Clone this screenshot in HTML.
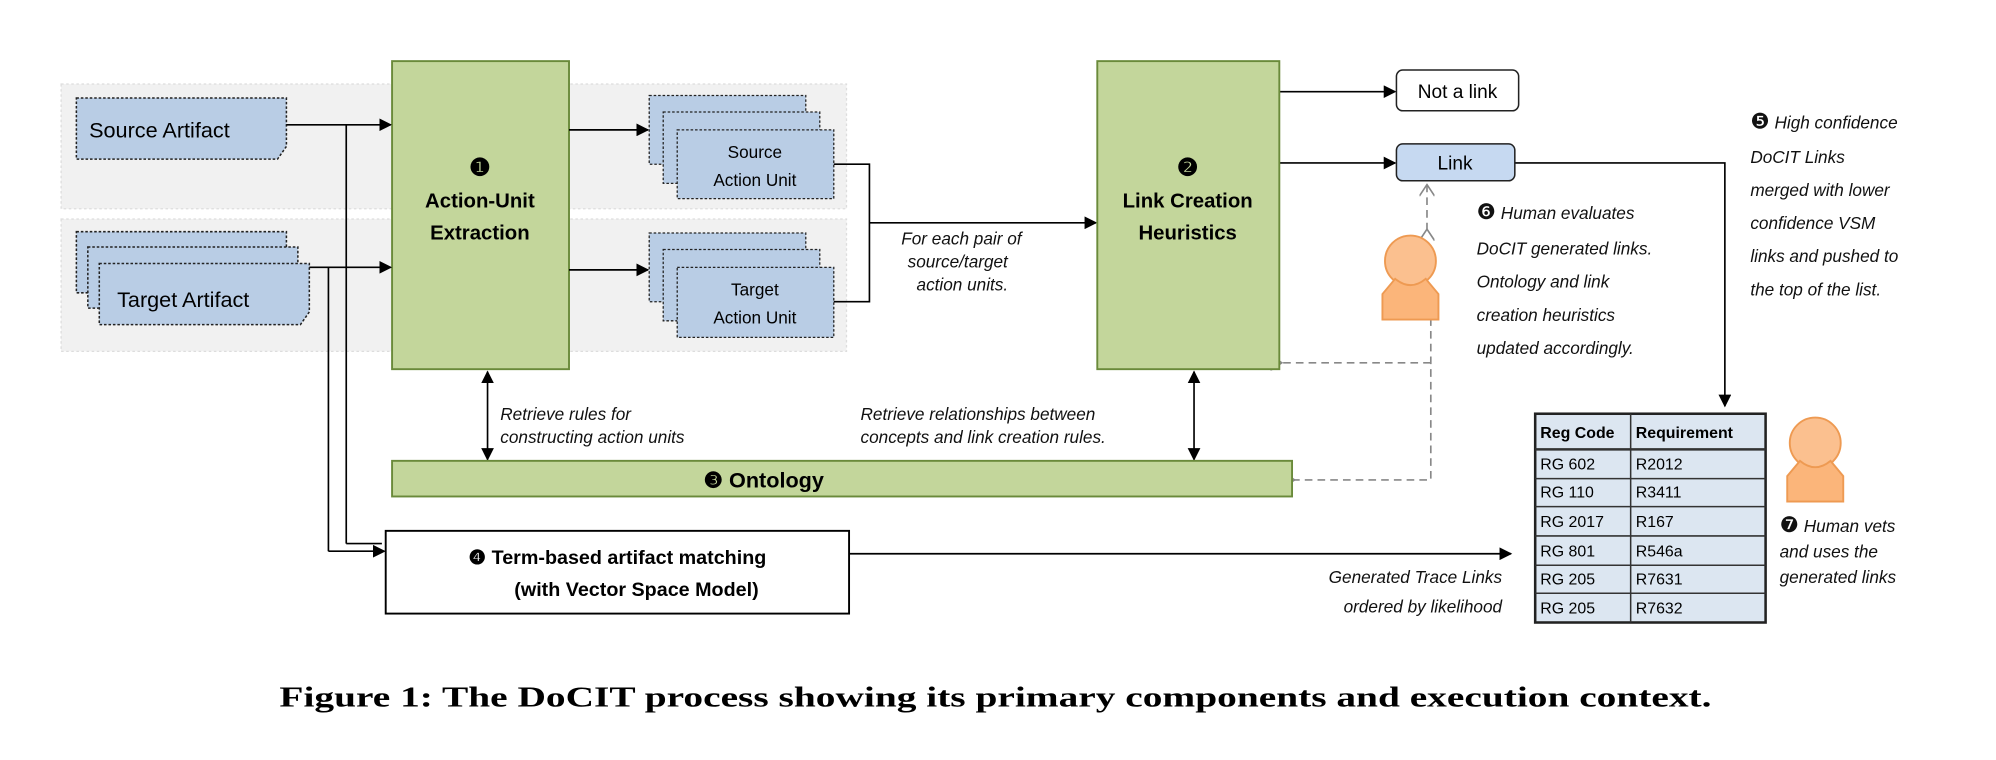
<!DOCTYPE html>
<html><head><meta charset="utf-8"><style>
html,body{margin:0;padding:0;background:#fff;}
svg{display:block;}
text{font-family:"Liberation Sans",sans-serif;}
.it{font-style:italic;font-size:13.5px;fill:#111;}
</style></head><body>
<svg width="1996" height="760" viewBox="0 0 1568 597" xmlns="http://www.w3.org/2000/svg">
<defs>
<marker id="a" markerWidth="10" markerHeight="10" refX="9" refY="5" orient="auto" markerUnits="userSpaceOnUse"><path d="M0,0 L10,5 L0,10 z" fill="#000"/></marker>
<marker id="as" markerWidth="10" markerHeight="10" refX="1" refY="5" orient="auto" markerUnits="userSpaceOnUse"><path d="M10,0 L0,5 L10,10 z" fill="#000"/></marker>
<marker id="ao" markerWidth="12" markerHeight="12" refX="1" refY="6" orient="auto" markerUnits="userSpaceOnUse"><path d="M10,0 L1,6 L10,12" fill="none" stroke="#888" stroke-width="1.3"/></marker>
<g id="person"><circle cx="26" cy="22" r="20" fill="#fbc08f" stroke="#ee9a52" stroke-width="1.5"/><path d="M14,36 L4,48 L4,68 L48,68 L48,48 L38,36 Q26,46 14,36z" fill="#fbb57a" stroke="#ee9a52" stroke-width="1.5"/></g>
</defs>
<rect x="48" y="66" width="617" height="98" fill="#f1f1f1" stroke="#ddd" stroke-dasharray="2,2"/>
<rect x="48" y="172" width="617" height="104" fill="#f1f1f1" stroke="#ddd" stroke-dasharray="2,2"/>
<path d="M60,77 H225 V115 L218,125 H60z" fill="#b9cde5" stroke="#222" stroke-dasharray="2,1.5" stroke-width="1.2"/>
<text x="70" y="108" font-size="17">Source Artifact</text>
<path d="M60,182 H225 V220 L218,230 H60z" fill="#b9cde5" stroke="#222" stroke-dasharray="2,1.5" stroke-width="1.2"/>
<path d="M69,194 H234 V232 L227,242 H69z" fill="#b9cde5" stroke="#222" stroke-dasharray="2,1.5" stroke-width="1.2"/>
<path d="M78,207 H243 V245 L236,255 H78z" fill="#b9cde5" stroke="#222" stroke-dasharray="2,1.5" stroke-width="1.2"/>
<text x="92" y="241" font-size="17">Target Artifact</text>
<rect x="308" y="48" width="139" height="242" fill="#c3d69b" stroke="#6a8a3a" stroke-width="1.5"/>
<text x="377" y="138" font-size="19" font-weight="bold" text-anchor="middle">❶</text>
<text x="377" y="163" font-size="16" font-weight="bold" text-anchor="middle">Action-Unit</text>
<text x="377" y="188" font-size="16" font-weight="bold" text-anchor="middle">Extraction</text>
<rect x="510" y="75" width="123" height="54" fill="#b9cde5" stroke="#222" stroke-dasharray="2,1.5"/>
<rect x="521" y="88" width="123" height="56" fill="#b9cde5" stroke="#222" stroke-dasharray="2,1.5"/>
<rect x="532" y="102" width="123" height="54" fill="#b9cde5" stroke="#222" stroke-dasharray="2,1.5"/>
<text x="593" y="124" font-size="13.5" text-anchor="middle">Source</text>
<text x="593" y="146" font-size="13.5" text-anchor="middle">Action Unit</text>
<rect x="510" y="183" width="123" height="54" fill="#b9cde5" stroke="#222" stroke-dasharray="2,1.5"/>
<rect x="521" y="196" width="123" height="56" fill="#b9cde5" stroke="#222" stroke-dasharray="2,1.5"/>
<rect x="532" y="210" width="123" height="55" fill="#b9cde5" stroke="#222" stroke-dasharray="2,1.5"/>
<text x="593" y="232" font-size="13.5" text-anchor="middle">Target</text>
<text x="593" y="254" font-size="13.5" text-anchor="middle">Action Unit</text>
<g stroke="#000" stroke-width="1.3" fill="none">
<line x1="225" y1="98" x2="307" y2="98" marker-end="url(#a)"/>
<line x1="243" y1="210" x2="307" y2="210" marker-end="url(#a)"/>
<line x1="447" y1="102" x2="509" y2="102" marker-end="url(#a)"/>
<line x1="447" y1="212" x2="509" y2="212" marker-end="url(#a)"/>
<polyline points="655,129 683,129 683,237 655,237"/>
<line x1="683" y1="175" x2="861" y2="175" marker-end="url(#a)"/>
<line x1="272" y1="98" x2="272" y2="427"/>
<line x1="258" y1="210" x2="258" y2="433"/>
<polyline points="258,433 302,433" marker-end="url(#a)"/>
<line x1="272" y1="427" x2="300" y2="427"/>
<line x1="1005" y1="72" x2="1096" y2="72" marker-end="url(#a)"/>
<line x1="1005" y1="128" x2="1096" y2="128" marker-end="url(#a)"/>
<polyline points="1190,128 1355,128 1355,319" marker-end="url(#a)"/>
<line x1="383" y1="292" x2="383" y2="361" marker-start="url(#as)" marker-end="url(#a)"/>
<line x1="938" y1="292" x2="938" y2="361" marker-start="url(#as)" marker-end="url(#a)"/>
<line x1="667" y1="435" x2="1187" y2="435" marker-end="url(#a)"/>
</g>
<g stroke="#888" stroke-width="1.3" fill="none" stroke-dasharray="6,4">
<line x1="1121" y1="145" x2="1121" y2="180" marker-start="url(#ao)" marker-end="url(#ao)"/>
<polyline points="1124,250 1124,377 1017,377" marker-end="url(#ao)"/>
<line x1="1124" y1="285" x2="1007" y2="285" marker-end="url(#ao)"/>
</g>
<text class="it" x="708" y="192">For each pair of</text>
<text class="it" x="713" y="210">source/target</text>
<text class="it" x="720" y="228">action units.</text>
<rect x="862" y="48" width="143" height="242" fill="#c3d69b" stroke="#6a8a3a" stroke-width="1.5"/>
<text x="933" y="138" font-size="19" font-weight="bold" text-anchor="middle">❷</text>
<text x="933" y="163" font-size="16" font-weight="bold" text-anchor="middle">Link Creation</text>
<text x="933" y="188" font-size="16" font-weight="bold" text-anchor="middle">Heuristics</text>
<rect x="1097" y="55" width="96" height="32" rx="5" fill="#fff" stroke="#222" stroke-width="1.2"/>
<text x="1145" y="77" font-size="15" text-anchor="middle">Not a link</text>
<rect x="1097" y="113" width="93" height="29" rx="5" fill="#c6d9f1" stroke="#222" stroke-width="1.2"/>
<text x="1143" y="133" font-size="15" text-anchor="middle">Link</text>
<use href="#person" x="1082" y="183"/>
<text class="it" x="1160" y="172"><tspan font-style="normal" font-size="17">❻</tspan>  Human evaluates</text>
<text class="it" x="1160" y="200">DoCIT generated links.</text>
<text class="it" x="1160" y="226">Ontology and link</text>
<text class="it" x="1160" y="252">creation heuristics</text>
<text class="it" x="1160" y="278">updated accordingly.</text>
<text class="it" x="1375" y="101"><tspan font-style="normal" font-size="17">❺</tspan> High confidence</text>
<text class="it" x="1375" y="128">DoCIT Links</text>
<text class="it" x="1375" y="154">merged with lower</text>
<text class="it" x="1375" y="180">confidence VSM</text>
<text class="it" x="1375" y="206">links and pushed to</text>
<text class="it" x="1375" y="232">the top of the list.</text>
<rect x="308" y="362" width="707" height="28" fill="#c3d69b" stroke="#6a8a3a" stroke-width="1.5"/>
<text x="600" y="383" font-size="17" font-weight="bold" text-anchor="middle">❸ Ontology</text>
<text class="it" x="393" y="330">Retrieve rules for</text>
<text class="it" x="393" y="348">constructing action units</text>
<text class="it" x="676" y="330">Retrieve relationships between</text>
<text class="it" x="676" y="348">concepts and link creation rules.</text>
<rect x="303" y="417" width="364" height="65" fill="#fff" stroke="#000" stroke-width="1.5"/>
<text x="485" y="443" font-size="15.5" font-weight="bold" text-anchor="middle">❹ Term-based artifact matching</text>
<text x="500" y="468" font-size="15.5" font-weight="bold" text-anchor="middle">(with Vector Space Model)</text>
<text class="it" x="1180" y="458" text-anchor="end">Generated Trace Links</text>
<text class="it" x="1180" y="481" text-anchor="end">ordered by likelihood</text>
<rect x="1206" y="325" width="181" height="164" fill="#dce6f1" stroke="#222" stroke-width="2"/>
<g stroke="#333" stroke-width="1.2">
<line x1="1206" y1="353" x2="1387" y2="353" stroke-width="2"/>
<line x1="1206" y1="376" x2="1387" y2="376"/>
<line x1="1206" y1="398" x2="1387" y2="398"/>
<line x1="1206" y1="421" x2="1387" y2="421"/>
<line x1="1206" y1="444" x2="1387" y2="444"/>
<line x1="1206" y1="466" x2="1387" y2="466"/>
<line x1="1281" y1="325" x2="1281" y2="489"/>
</g>
<g font-size="12.5">
<text x="1210" y="344" font-weight="bold">Reg Code</text><text x="1285" y="344" font-weight="bold">Requirement</text>
<text x="1210" y="369">RG 602</text><text x="1285" y="369">R2012</text>
<text x="1210" y="391">RG 110</text><text x="1285" y="391">R3411</text>
<text x="1210" y="414">RG 2017</text><text x="1285" y="414">R167</text>
<text x="1210" y="437">RG 801</text><text x="1285" y="437">R546a</text>
<text x="1210" y="459">RG 205</text><text x="1285" y="459">R7631</text>
<text x="1210" y="482">RG 205</text><text x="1285" y="482">R7632</text>
</g>
<use href="#person" x="1400" y="326"/>
<text class="it" x="1398" y="418"><tspan font-style="normal" font-size="17">❼</tspan>  Human vets</text>
<text class="it" x="1398" y="438">and uses the</text>
<text class="it" x="1398" y="458">generated links</text>
<text x="782" y="555" style="font-family:'Liberation Serif',serif" font-size="22" font-weight="bold" text-anchor="middle" textLength="1125" lengthAdjust="spacingAndGlyphs">Figure 1: The DoCIT process showing its primary components and execution context.</text>
</svg>
</body></html>
